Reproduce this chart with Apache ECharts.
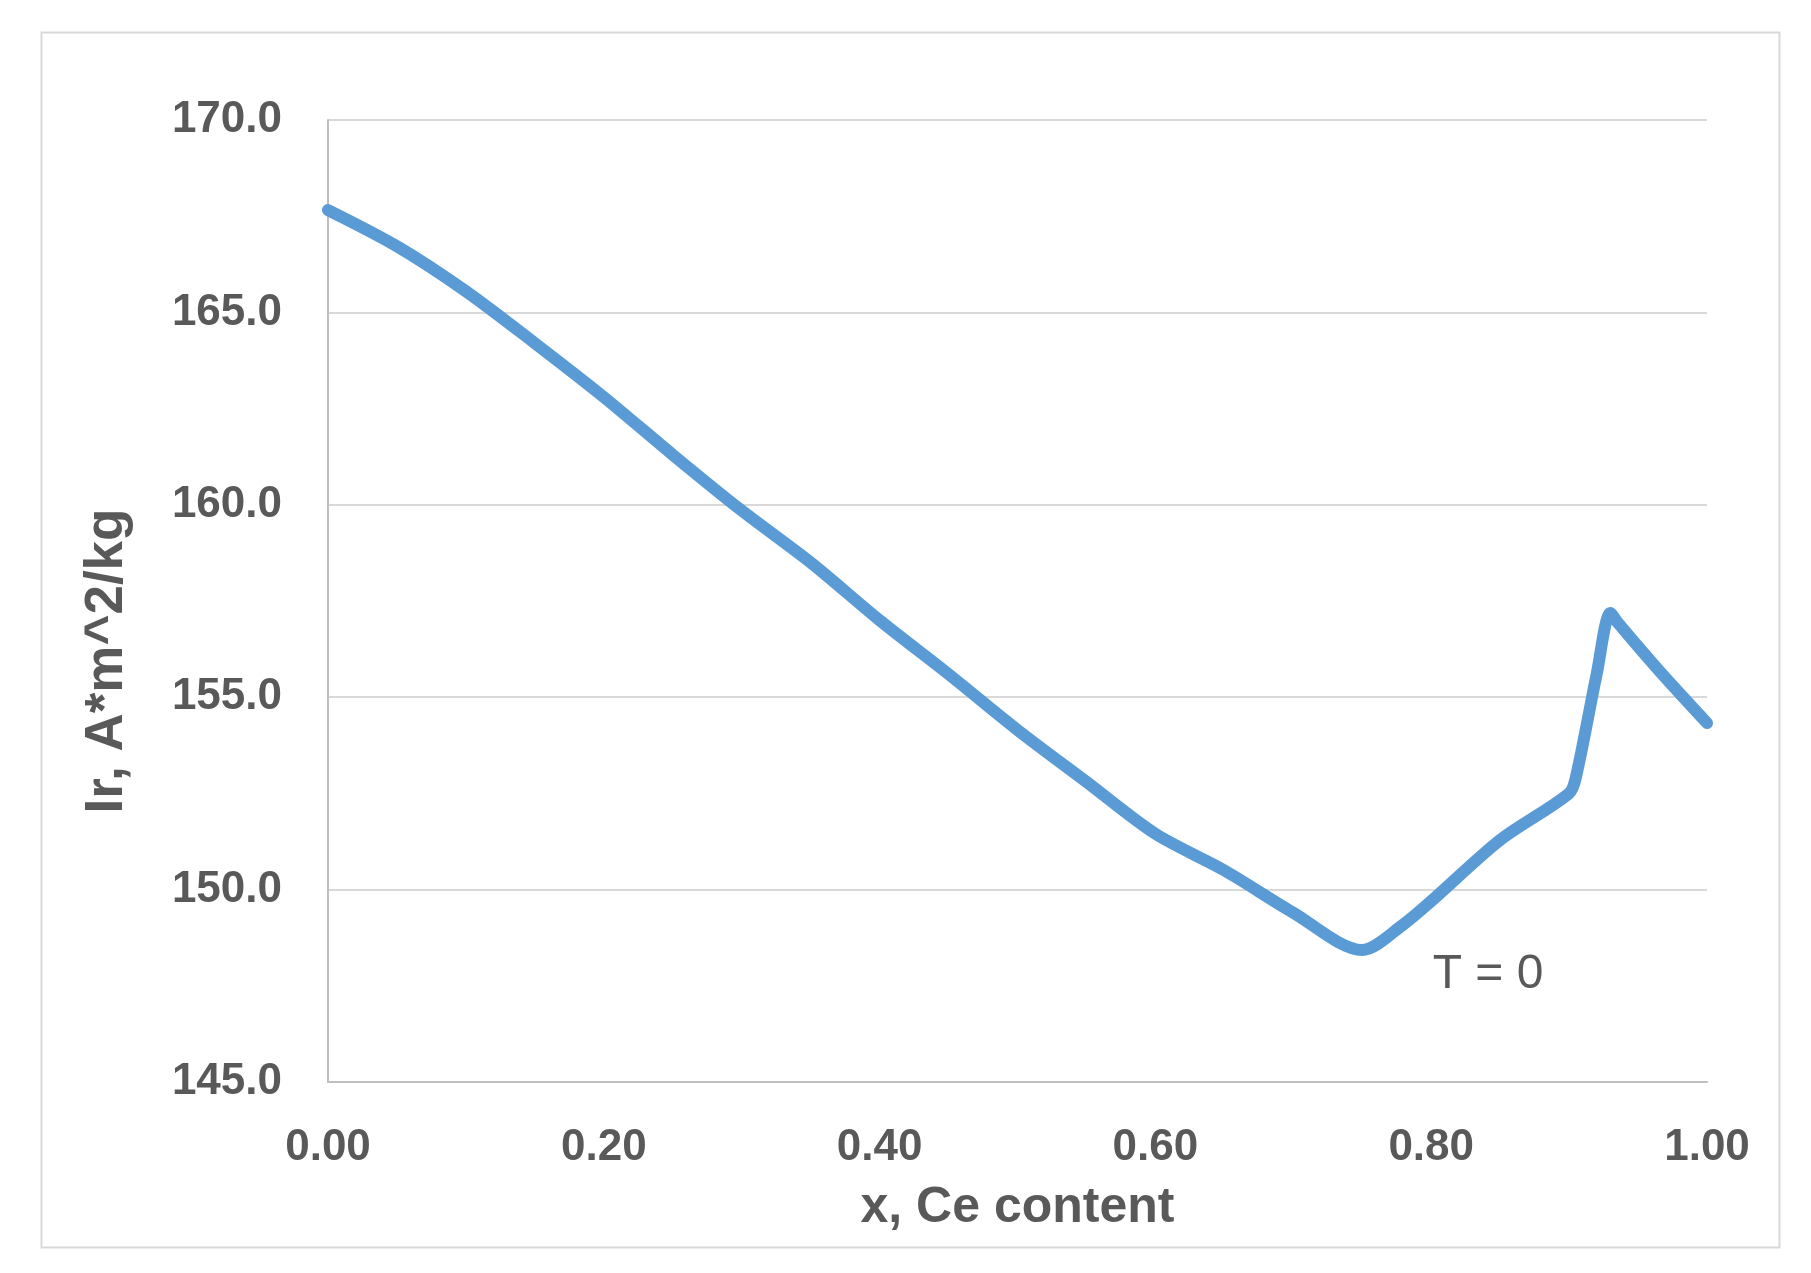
<!DOCTYPE html>
<html>
<head>
<meta charset="utf-8">
<script src="https://cdn.jsdelivr.net/npm/echarts@6/dist/echarts.min.js"></script>
<style>
html,body{margin:0;padding:0;background:#fff;}
#chart{width:1811px;height:1273px;}
</style>
</head>
<body>
<div id="chart"></div>
<script>
// Ce content x
const xValues = [0, 0.05, 0.1, 0.15, 0.2, 0.25, 0.3, 0.35, 0.4, 0.45, 0.5, 0.55, 0.6, 0.65, 0.7, 0.75, 0.78, 0.8, 0.85, 0.9, 0.905, 0.92, 0.93, 0.935, 0.965, 1.0];
// Ir, A*m^2/kg at T = 0
const irValues = [167.66, 166.72, 165.55, 164.2, 162.8, 161.3, 159.85, 158.5, 157.0, 155.6, 154.15, 152.8, 151.45, 150.5, 149.4, 148.43, 149.1, 149.7, 151.29, 152.5, 152.93, 155.6, 157.19, 156.95, 155.7, 154.33];
const xTicks = [0, 0.2, 0.4, 0.6, 0.8, 1.0];
const yTicks = [145, 150, 155, 160, 165, 170];
const annotation = 'T = 0';
const xTitle = 'x, Ce content';
const yTitle = 'Ir, A*m^2/kg';

const seriesData = xValues.map((x, i) => [x, irValues[i]]);

const chart = echarts.init(document.getElementById('chart'), null, {renderer: 'canvas'});
const textColor = '#595959';
const font = '"Liberation Sans", Arial, sans-serif';

chart.setOption({
  animation: false,
  backgroundColor: '#ffffff',
  grid: {left: 328, right: 104, top: 120, bottom: 191, containLabel: false},
  xAxis: {
    type: 'value',
    min: xTicks[0], max: xTicks[xTicks.length - 1], interval: 0.2,
    name: xTitle,
    nameLocation: 'middle',
    nameGap: 101,
    nameTextStyle: {color: textColor, fontSize: 50, fontWeight: 'bold', fontFamily: font},
    axisLine: {show: true, lineStyle: {color: '#bfbfbf', width: 2}},
    axisTick: {show: false},
    splitLine: {show: false},
    axisLabel: {color: textColor, fontSize: 44, fontWeight: 'bold', fontFamily: font, margin: 44,
      formatter: v => v.toFixed(2)}
  },
  yAxis: {
    type: 'value',
    min: yTicks[0], max: yTicks[yTicks.length - 1], interval: 5,
    name: yTitle,
    nameLocation: 'middle',
    nameRotate: 90,
    nameGap: 194,
    nameTextStyle: {color: textColor, fontSize: 53, fontWeight: 'bold', fontFamily: font, padding: [0, 120, 0, 0]},
    axisLine: {show: true, lineStyle: {color: '#bfbfbf', width: 2}},
    axisTick: {show: false},
    splitLine: {show: true, lineStyle: {color: '#d9d9d9', width: 2}},
    axisLabel: {color: textColor, fontSize: 44, fontWeight: 'bold', fontFamily: font, margin: 46,
      formatter: v => v.toFixed(1)}
  },
  series: [{
    type: 'line',
    data: seriesData,
    smooth: 0.3,
    showSymbol: false,
    lineStyle: {color: '#5b9bd5', width: 12, cap: 'round', join: 'round'},
    z: 5
  }],
  graphic: [
    {type: 'rect', left: 39, top: 30, shape: {width: 1738, height: 1215},
      style: {fill: 'none', stroke: '#d9d9d9', lineWidth: 2}, silent: true, z: -1},
    {type: 'text', x: 1488, y: 975,
      style: {text: annotation, fill: textColor, fontSize: 48, fontFamily: font, align: 'center', verticalAlign: 'middle'}}
  ]
});
</script>
</body>
</html>
